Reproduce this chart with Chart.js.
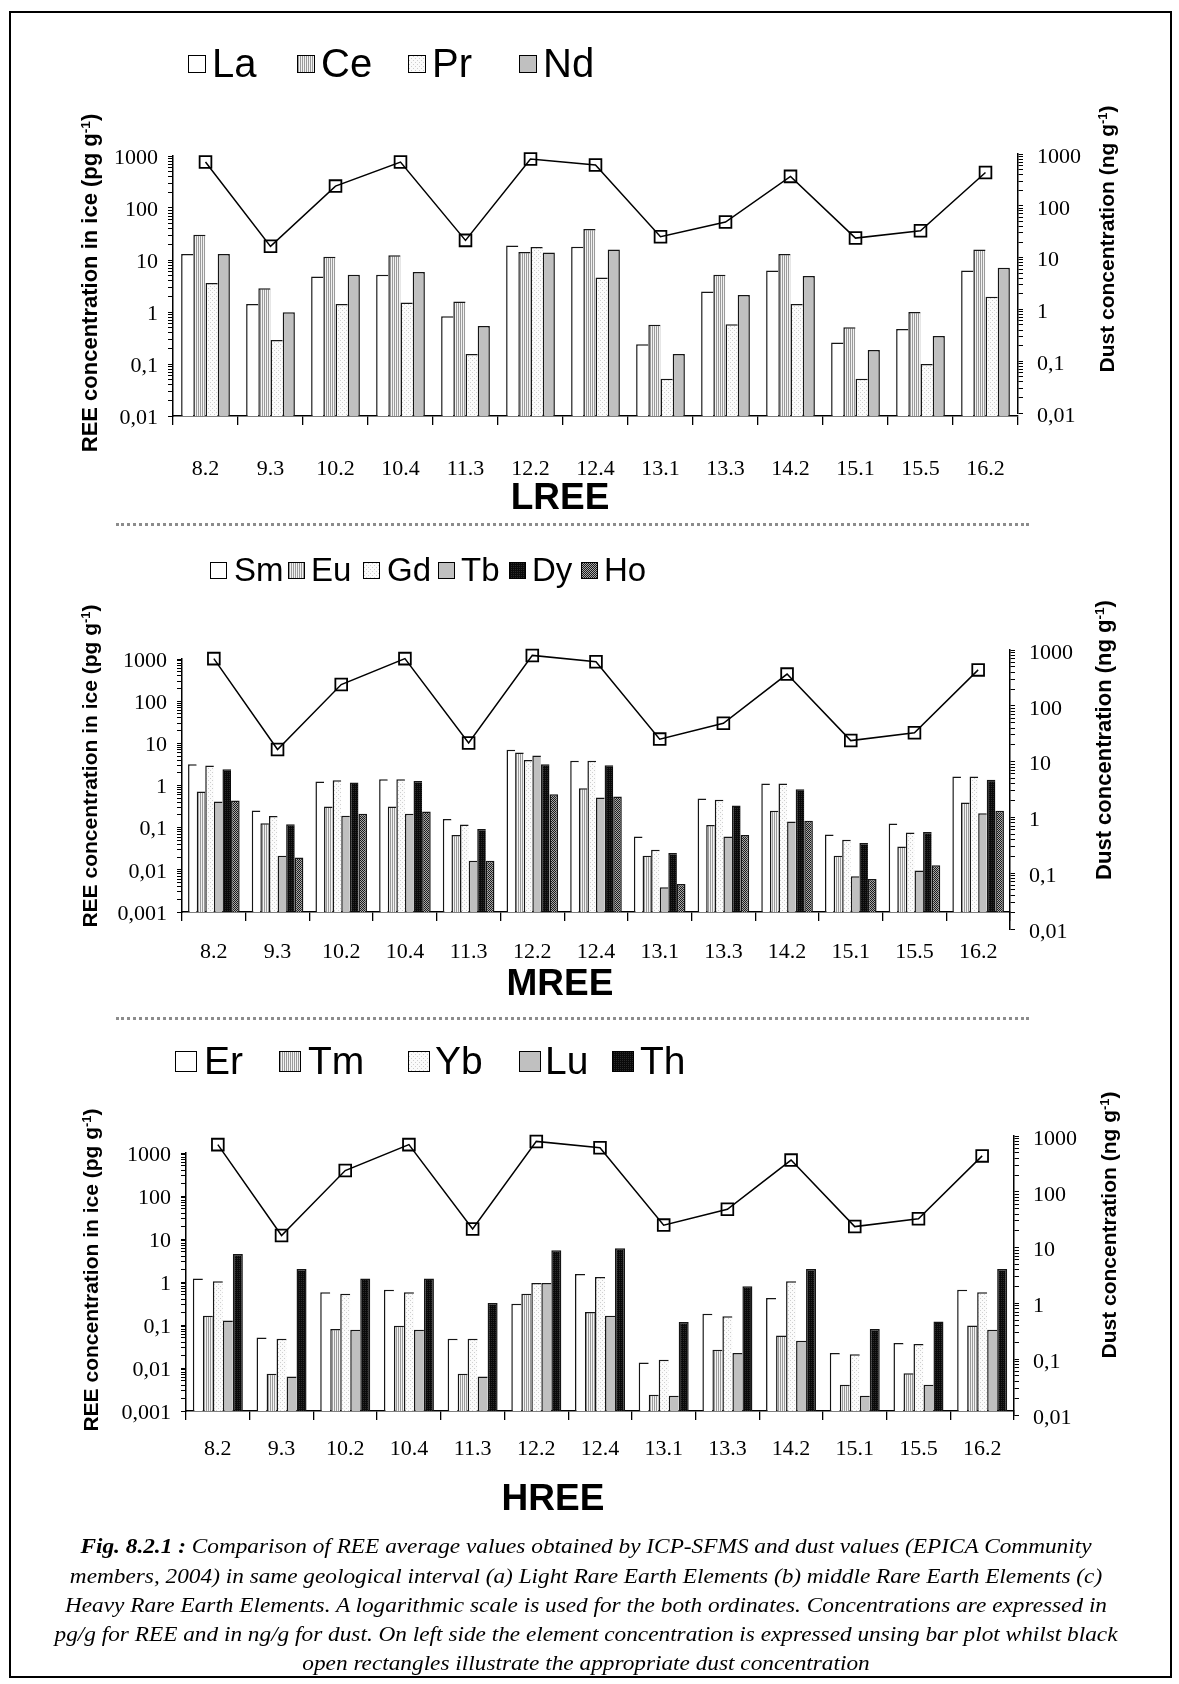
<!DOCTYPE html>
<html>
<head>
<meta charset="utf-8">
<title>REE and dust concentrations</title>
<script src="https://cdn.jsdelivr.net/npm/chart.js@4.4.1/dist/chart.umd.min.js"></script>
<style>
  html, body { margin:0; padding:0; background:#fff; }
  #page { position:relative; width:1179px; height:1684px; overflow:hidden; background:#fff; }
  #frame { position:absolute; left:9px; top:11px; width:1163px; height:1667px; border:2px solid #000; box-sizing:border-box; }
  canvas.cv { position:absolute; left:0; }
  .ttl { position:absolute; white-space:nowrap; font-family:'Liberation Sans', Arial, sans-serif; font-weight:bold; color:#000;
         transform:translate(-50%,-50%) rotate(-90deg); line-height:1; }
  .ttl sup { font-size:0.62em; vertical-align:0.5em; line-height:0; }
  .xt { position:absolute; font-family:'Liberation Sans', Arial, sans-serif; font-weight:bold; color:#000;
        transform:translate(-50%,-50%); line-height:1; white-space:nowrap; }
  .sep { position:absolute; left:116px; width:913px; height:0; border-top:3px dotted #8c8c8c; }
  .lg-box { position:absolute; box-sizing:border-box; border:1.3px solid #000; image-rendering:pixelated; }
  .lg-txt { position:absolute; font-family:'Liberation Sans', Arial, sans-serif; line-height:1; white-space:nowrap; color:#000; }
  #caption { position:absolute; left:0; top:0; width:1172px; height:1684px; transform-origin:586px 0;
             font-family:'Liberation Serif','Times New Roman',serif; font-style:italic; color:#000; pointer-events:none; }
  #caption div { position:absolute; left:0; width:1172px; text-align:center; white-space:nowrap; line-height:1; }
</style>
</head>
<body>
<div id="page">
  <div id="frame"></div>
  <canvas class="cv" id="c1"></canvas>
  <canvas class="cv" id="c2"></canvas>
  <canvas class="cv" id="c3"></canvas>
  <div class="sep" style="top:523px"></div>
  <div class="sep" style="top:1017px"></div>
  <div id="caption"></div>
</div>
<script>
// ---------------- DATA ----------------
const CATEGORIES = ['8.2','9.3','10.2','10.4','11.3','12.2','12.4','13.1','13.3','14.2','15.1','15.5','16.2'];
// dust concentration (ng/g), right axis, same in all three panels
const DUST = [700, 16.5, 240, 700, 21.5, 800, 615, 25.3, 48.5, 370, 23.8, 33, 440];

// LREE (pg/g)
const LREE_NAMES = ['La','Ce','Pr','Nd'];
const LA = [13.0, 1.42, 4.84, 5.2, 0.83, 19.1, 18.0, 0.24, 2.49, 6.3, 0.26, 0.47, 6.3];
const CE = [30.6, 2.85, 11.6, 12.3, 1.60, 14.2, 39.3, 0.57, 5.2, 13.0, 0.51, 1.0, 16.0];
const PR = [3.6, 0.29, 1.42, 1.53, 0.156, 17.7, 4.63, 0.052, 0.58, 1.42, 0.052, 0.10, 1.97];
const ND = [13.0, 0.99, 5.2, 5.87, 0.54, 14.0, 16.0, 0.156, 2.12, 4.91, 0.186, 0.346, 7.1];

// MREE (pg/g)
const MREE_NAMES = ['Sm','Eu','Gd','Tb','Dy','Ho'];
const SM = [3.2, 0.256, 1.24, 1.41, 0.16, 7.0, 3.84, 0.062, 0.492, 1.115, 0.069, 0.126, 1.63];
const EU = [0.72, 0.128, 0.318, 0.318, 0.0667, 6.04, 0.865, 0.0216, 0.115, 0.251, 0.0216, 0.036, 0.396];
const GD = [2.98, 0.188, 1.34, 1.41, 0.119, 4.05, 3.84, 0.030, 0.458, 1.115, 0.0517, 0.0771, 1.63];
const TB = [0.418, 0.0216, 0.191, 0.213, 0.0165, 5.13, 0.52, 0.00385, 0.062, 0.14, 0.007, 0.0097, 0.221];
const DY = [2.44, 0.121, 1.18, 1.27, 0.0925, 3.2, 3.03, 0.025, 0.336, 0.819, 0.0431, 0.0785, 1.36];
const HO = [0.44, 0.0197, 0.213, 0.242, 0.0165, 0.623, 0.55, 0.00461, 0.0667, 0.146, 0.00605, 0.0128, 0.251];

// HREE (pg/g)
const HREE_NAMES = ['Er','Tm','Yb','Lu','Th'];
const ER = [1.2, 0.0514, 0.574, 0.663, 0.0479, 0.313, 1.54, 0.0135, 0.183, 0.424, 0.0222, 0.038, 0.663];
const TM = [0.164, 0.00733, 0.0804, 0.0962, 0.00733, 0.535, 0.2, 0.00238, 0.0265, 0.0573, 0.00406, 0.0076, 0.098];
const YB = [1.04, 0.0479, 0.535, 0.574, 0.0479, 0.948, 1.31, 0.0155, 0.159, 1.04, 0.021, 0.036, 0.574];
const LU = [0.128, 0.00635, 0.0776, 0.0776, 0.00635, 0.948, 0.164, 0.00225, 0.0222, 0.043, 0.00225, 0.00406, 0.0776];
const TH = [4.49, 2.01, 1.2, 1.2, 0.324, 5.47, 6.08, 0.117, 0.792, 2.01, 0.0804, 0.121, 2.01];

// tick labels
const LEFT_TICKS_LREE = ['0,01','0,1','1','10','100','1000'];
const LEFT_TICKS_MHREE = ['0,001','0,01','0,1','1','10','100','1000'];
const RIGHT_TICKS = ['0,01','0,1','1','10','100','1000'];

// texts
const Y_TITLE_LEFT = 'REE concentration in ice (pg g<sup>-1</sup>)';
const Y_TITLE_RIGHT = 'Dust concentration (ng g<sup>-1</sup>)';
const X_TITLES = ['LREE','MREE','HREE'];
const CAPTION_LINES = [
  '<b>Fig. 8.2.1 :</b> Comparison of REE average values obtained by ICP-SFMS and dust values (EPICA Community',
  'members, 2004) in same geological interval (a) Light Rare Earth Elements (b) middle Rare Earth Elements (c)',
  'Heavy Rare Earth Elements. A logarithmic scale is used for the both ordinates. Concentrations are expressed in',
  'pg/g for REE and in ng/g for dust. On left side the element concentration is expressed unsing bar plot whilst black',
  'open rectangles illustrate the appropriate dust concentration'
];

// ---------------- STYLE / LAYOUT ----------------
function makeTile(w, h, draw) {
  const c = document.createElement('canvas'); c.width = w; c.height = h;
  draw(c.getContext('2d')); return c;
}
const TILE = {
  white:   makeTile(1,1,g=>{ g.fillStyle='#fff'; g.fillRect(0,0,1,1); }),
  vstripe: makeTile(2,1,g=>{ g.fillStyle='#f2f2f2'; g.fillRect(0,0,2,1); g.fillStyle='#9a9a9a'; g.fillRect(0,0,1,1); }),
  stipple: makeTile(4,4,g=>{ g.fillStyle='#fbfbfb'; g.fillRect(0,0,4,4); g.fillStyle='#cfcfcf'; g.fillRect(0,0,1,1); g.fillRect(2,2,1,1); }),
  gray:    makeTile(1,1,g=>{ g.fillStyle='#c0c0c0'; g.fillRect(0,0,1,1); }),
  black:   makeTile(2,2,g=>{ g.fillStyle='#0a0a0a'; g.fillRect(0,0,2,2); g.fillStyle='#2a2a2a'; g.fillRect(1,0,1,1); }),
  checker: makeTile(2,2,g=>{ g.fillStyle='#a8a8a8'; g.fillRect(0,0,2,2); g.fillStyle='#1a1a1a'; g.fillRect(0,0,1,1); g.fillRect(1,1,1,1); })
};

const PANELS = [
  { canvas:'c1', top:100, height:420, names:LREE_NAMES, series:[LA,CE,PR,ND],
    fills:['white','vstripe','stipple','gray'],
    leftTicks:LEFT_TICKS_LREE, rightTicks:RIGHT_TICKS,
    area:{left:173, right:1018, top:156, bottom:416}, rightSpan:{top:154, bottom:413},
    catPct:0.75, xPad:31,
    legend:{box:[188,297,408,519], txt:[212,321,432,543], boxW:18, boxH:18, boxTop:55, size:40, baseline:77},
    titles:{left:[90,283,22], right:[1106,239,21], x:[560,496]} },
  { canvas:'c2', top:600, height:410, names:MREE_NAMES, series:[SM,EU,GD,TB,DY,HO],
    fills:['white','vstripe','stipple','gray','black','checker'],
    leftTicks:LEFT_TICKS_MHREE, rightTicks:RIGHT_TICKS,
    area:{left:182, right:1010, top:659, bottom:912}, rightSpan:{top:650, bottom:929},
    catPct:0.81, xPad:18,
    legend:{box:[210,288,363,438,509,581], txt:[234,311,387,461,532,604], boxW:17, boxH:17, boxTop:562, size:33, baseline:581},
    titles:{left:[89,766,21], right:[1104,740,22], x:[560,982]} },
  { canvas:'c3', top:1090, height:410, names:HREE_NAMES, series:[ER,TM,YB,LU,TH],
    fills:['white','vstripe','stipple','gray','black'],
    leftTicks:LEFT_TICKS_MHREE, rightTicks:RIGHT_TICKS,
    area:{left:186, right:1014, top:1153, bottom:1411}, rightSpan:{top:1136, bottom:1415},
    catPct:0.785, xPad:16,
    legend:{box:[175,279,408,519,612], txt:[204,308,435,545,640], boxW:22, boxH:21, boxTop:1051, size:39, baseline:1074},
    titles:{left:[90,1270,21], right:[1108,1225,21], x:[553,1497]} }
];

const TICK_FONT = { family:"'Liberation Serif','Times New Roman',serif", size:22 };
const X_AXIS_H = 60, RIGHT_AXIS_W = 90;

// right axis spans its own vertical extent (as in the original figure)
const rightSpanPlugin = {
  id:'rightSpan',
  afterLayout(chart, args, opts) {
    const s = chart.scales.y2;
    if (!s || opts.top == null) return;
    s.top = opts.top; s.bottom = opts.bottom; s.height = opts.bottom - opts.top;
    s.configure();
  },
  // let dust markers that sit above the bar area still be drawn
  beforeDatasetDraw(chart, args) {
    if (args.meta.type !== 'line') return;
    chart.$savedArea = chart.chartArea;
    chart.chartArea = { left:0, top:0, right:chart.width, bottom:chart.height, width:chart.width, height:chart.height };
  },
  afterDatasetDraw(chart, args) {
    if (args.meta.type !== 'line' || !chart.$savedArea) return;
    chart.chartArea = chart.$savedArea; chart.$savedArea = null;
  }
};

function tickValues(labels) { return labels.map(l => parseFloat(l.replace(',', '.'))); }
function logAxisTicks(labels) {
  const vals = tickValues(labels);
  return function(scale) {
    const out = [];
    for (let i = 0; i < vals.length; i++) {
      out.push({ value: vals[i] });
      if (i < vals.length - 1) for (let d = 2; d <= 9; d++) out.push({ value: +(vals[i] * d).toPrecision(3) });
    }
    scale.ticks = out;
  };
}
function logAxisLabel(labels) {
  const vals = tickValues(labels);
  return function(v) {
    const i = vals.findIndex(x => Math.abs(x - v) <= x * 1e-6);
    return i >= 0 ? labels[i] : '';
  };
}

const page = document.getElementById('page');

function buildPanel(p, idx) {
  const cv = document.getElementById(p.canvas);
  cv.width = 1179; cv.height = p.height; cv.style.top = p.top + 'px';
  cv.style.width = '1179px'; cv.style.height = p.height + 'px';
  const ctx = cv.getContext('2d');
  const n = p.series.length;
  const datasets = p.series.map((arr, i) => ({
    type:'bar', label:p.names[i], data:arr, yAxisID:'y',
    backgroundColor: ctx.createPattern(TILE[p.fills[i]], 'repeat'),
    borderColor:'#151515',
    borderWidth: i === n - 1 ? {top:1.5, left:1.5, right:1.5, bottom:0} : {top:1.5, left:1.5, right:0, bottom:0},
    borderSkipped:'start',
    categoryPercentage:p.catPct, barPercentage:1.0, order:1
  }));
  datasets.push({
    type:'line', label:'Dust', data:DUST, yAxisID:'y2',
    borderColor:'#000', borderWidth:1.5, tension:0,
    pointStyle:'rect', pointRadius:8.3, pointBorderWidth:1.8,
    pointBorderColor:'#000', pointBackgroundColor:'rgba(0,0,0,0)',
    clip:false, order:0
  });
  const lv = tickValues(p.leftTicks), rv = tickValues(p.rightTicks);
  new Chart(ctx, {
    data:{ labels:CATEGORIES, datasets },
    options:{
      responsive:false, animation:false, events:[],
      layout:{ padding:{ top:p.area.top - p.top, bottom:p.top + p.height - p.area.bottom - X_AXIS_H,
                         left:0, right:1179 - p.area.right - RIGHT_AXIS_W } },
      plugins:{ legend:{display:false}, tooltip:{enabled:false},
                rightSpan:{ top:p.rightSpan.top - p.top, bottom:p.rightSpan.bottom - p.top } },
      scales:{
        x:{ type:'category', offset:true,
            grid:{ offset:true, drawOnChartArea:false, drawTicks:true, tickLength:9, color:'#000', lineWidth:1.3 },
            border:{ display:true, color:'#000', width:1.5 },
            ticks:{ font:TICK_FONT, color:'#000', padding:p.xPad, maxRotation:0, autoSkip:false },
            afterFit:s => { s.height = X_AXIS_H; } },
        y:{ type:'logarithmic', position:'left', min:lv[0], max:lv[lv.length-1],
            afterBuildTicks:logAxisTicks(p.leftTicks),
            afterFit:s => { s.width = p.area.left; },
            ticks:{ callback:logAxisLabel(p.leftTicks), font:TICK_FONT, color:'#000', padding:10, labelOffset:2, autoSkip:false },
            grid:{ drawOnChartArea:false, drawTicks:true, tickLength:5, color:'#000', lineWidth:1 },
            border:{ display:true, color:'#000', width:1.5 } },
        y2:{ type:'logarithmic', position:'right', min:rv[0], max:rv[rv.length-1],
            afterBuildTicks:logAxisTicks(p.rightTicks),
            afterFit:s => { s.width = RIGHT_AXIS_W; },
            ticks:{ callback:logAxisLabel(p.rightTicks), font:TICK_FONT, color:'#000', padding:14, labelOffset:3, autoSkip:false },
            grid:{ drawOnChartArea:false, drawTicks:true, tickLength:5, color:'#000', lineWidth:1 },
            border:{ display:true, color:'#000', width:1.5 } }
      }
    },
    plugins:[rightSpanPlugin]
  });

  // legend
  const L = p.legend;
  p.names.forEach((name, i) => {
    const b = document.createElement('div'); b.className = 'lg-box';
    Object.assign(b.style, { left:L.box[i] + 'px', top:L.boxTop + 'px', width:L.boxW + 'px', height:L.boxH + 'px',
      backgroundImage:'url(' + TILE[p.fills[i]].toDataURL() + ')' });
    page.appendChild(b);
    const t = document.createElement('div'); t.className = 'lg-txt'; t.textContent = name;
    Object.assign(t.style, { left:L.txt[i] + 'px', top:(L.baseline - 0.8465 * L.size) + 'px', fontSize:L.size + 'px' });
    page.appendChild(t);
  });

  // axis titles
  const T = p.titles;
  const lt = document.createElement('div'); lt.className = 'ttl'; lt.innerHTML = Y_TITLE_LEFT;
  Object.assign(lt.style, { left:T.left[0] + 'px', top:T.left[1] + 'px', fontSize:T.left[2] + 'px' });
  page.appendChild(lt);
  const rt = document.createElement('div'); rt.className = 'ttl'; rt.innerHTML = Y_TITLE_RIGHT;
  Object.assign(rt.style, { left:T.right[0] + 'px', top:T.right[1] + 'px', fontSize:T.right[2] + 'px' });
  page.appendChild(rt);
  const xt = document.createElement('div'); xt.className = 'xt'; xt.textContent = X_TITLES[idx];
  Object.assign(xt.style, { left:T.x[0] + 'px', top:T.x[1] + 'px', fontSize:'37px' });
  page.appendChild(xt);
}

PANELS.forEach(buildPanel);

// caption
const CAP_BASELINES = [1553, 1583, 1612, 1641, 1670];
const CAP_SIZE = 22, CAP_LINE4_WIDTH = 1063;
const cap = document.getElementById('caption');
const spans = CAPTION_LINES.map((html, i) => {
  const d = document.createElement('div');
  d.style.top = (CAP_BASELINES[i] - 0.8375 * CAP_SIZE) + 'px';
  d.style.fontSize = CAP_SIZE + 'px';
  const s = document.createElement('span'); s.innerHTML = html; d.appendChild(s);
  cap.appendChild(d); return s;
});
const w4 = spans[3].getBoundingClientRect().width;
if (w4 > 0) cap.style.transform = 'scaleX(' + (CAP_LINE4_WIDTH / w4).toFixed(4) + ')';
</script>
</body>
</html>
